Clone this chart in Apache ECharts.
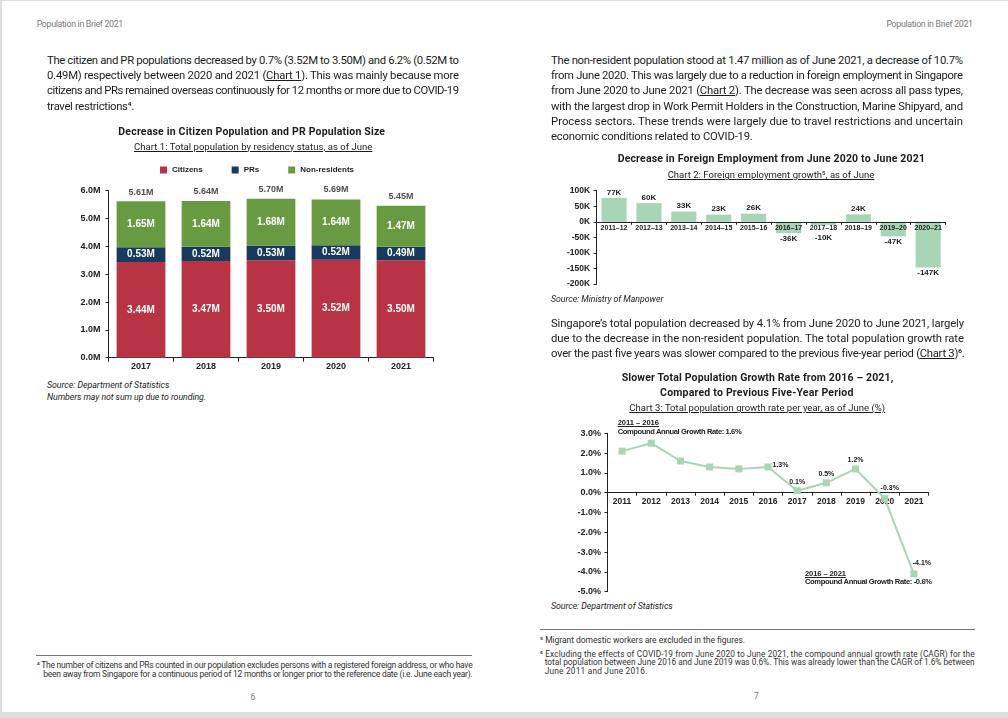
<!DOCTYPE html>
<html>
<head>
<meta charset="utf-8">
<script src="https://cdn.jsdelivr.net/npm/echarts/dist/echarts.min.js"></script>
<style>
  html, body { margin:0; padding:0; width:1008px; height:718px; overflow:hidden; background:#dedede; }
  #page { position:absolute; left:2px; top:1px; width:1006px; height:711px; background:#fff; }
  .t { position:absolute; white-space:nowrap; }
  .rule { position:absolute; height:1px; background:#777; }
  .chart { position:absolute; }
</style>
</head>
<body>
<div id="page"></div>
<div id="c1" class="chart" style="left:0px;top:150px;width:504px;height:230px;"></div>
<div id="c2" class="chart" style="left:504px;top:175px;width:504px;height:120px;"></div>
<div id="c3" class="chart" style="left:504px;top:415px;width:504px;height:185px;"></div>
<div class="rule" style="left:36px;top:655px;width:436px;"></div>
<div class="rule" style="left:540px;top:629px;width:435px;"></div>
<script>
// ---------- DATA ----------
const years1 = ['2017', '2018', '2019', '2020', '2021'];
const citizens = [3.44, 3.47, 3.50, 3.52, 3.50];
const prs = [0.53, 0.52, 0.53, 0.52, 0.49];
const nonResidents = [1.65, 1.64, 1.68, 1.64, 1.47];
const totals = [5.61, 5.64, 5.70, 5.69, 5.45];

const periods2 = ['2011–12', '2012–13', '2013–14', '2014–15', '2015–16', '2016–17', '2017–18', '2018–19', '2019–20', '2020–21'];
const empGrowth = [77, 60, 33, 23, 26, -36, -10, 24, -47, -147];
const empAxis = { min: -200, max: 100, interval: 50 };

const years3 = ['2011', '2012', '2013', '2014', '2015', '2016', '2017', '2018', '2019', '2020', '2021'];
const popGrowth = [2.1, 2.5, 1.6, 1.3, 1.2, 1.3, 0.1, 0.5, 1.2, -0.3, -4.1];
const popAxis = { min: -5, max: 3, interval: 1 };

// ---------- TEXT HELPERS ----------
function place(html, x, yc, o) {
  const d = document.createElement('div');
  d.className = 't';
  d.innerHTML = html;
  d.style.fontSize = o.size + 'px';
  d.style.fontWeight = o.weight || 400;
  d.style.fontStyle = o.italic ? 'italic' : 'normal';
  d.style.color = o.color || '#1c1c1c';
  d.style.fontFamily = o.font || 'Roboto, sans-serif';
  if (o.u) { d.style.textDecoration = 'underline'; d.style.textUnderlineOffset = '1px'; }
  const lh = o.lh || Math.round(o.size * 1.3);
  d.style.lineHeight = lh + 'px';
  d.style.top = (yc - lh / 2) + 'px';
  document.body.appendChild(d);
  let w = d.getBoundingClientRect().width;
  if (o.w) {
    const n = d.textContent.length;
    const ls = (o.w - w) / Math.max(1, n - 1);
    d.style.letterSpacing = ls + 'px';
    w = o.w;
  } else if (o.ls !== undefined) {
    d.style.letterSpacing = o.ls + 'px';
    w = d.getBoundingClientRect().width;
  }
  let left = x;
  if (o.align === 'center') left = x - w / 2;
  if (o.align === 'right') left = x - w;
  d.style.left = left + 'px';
  return d;
}
function para(lines, x, y0, dy, w, size, lastFull, extra) {
  let sum = 0, cnt = 0; const els = [];
  lines.forEach((ln, i) => {
    const full = i < lines.length - 1 || lastFull;
    const o = Object.assign({ size: size, w: full ? w : null }, extra || {});
    const d = place(ln, x, y0 + i * dy, o);
    if (full) { sum += parseFloat(d.style.letterSpacing); cnt++; }
    els.push(d);
  });
  if (!lastFull && cnt) els[els.length - 1].style.letterSpacing = (sum / cnt) + 'px';
}

const ARIAL = 'Liberation Sans, Arial, sans-serif';

function drawText() {
  // headers
  place('Population in Brief 2021', 36.7, 24.3, { size: 8.8, color: '#7a7a7a', w: 86.6 });
  place('Population in Brief 2021', 973, 24.3, { size: 8.8, color: '#7a7a7a', w: 86.6, align: 'right' });

  // left paragraph
  para([
    'The citizen and PR populations decreased by 0.7% (3.52M to 3.50M) and 6.2% (0.52M to',
    '0.49M) respectively between 2020 and 2021 (<u>Chart 1</u>). This was mainly because more',
    'citizens and PRs remained overseas continuously for 12 months or more due to COVID-19',
    'travel restrictions⁴.'
  ], 47, 60, 15.35, 412, 11.3, false);

  // chart 1 titles
  place('Decrease in Citizen Population and PR Population Size', 251.7, 131.7, { size: 10.5, weight: 700, w: 266.7, align: 'center' });
  place('Chart 1: Total population by residency status, as of June', 253.2, 146.7, { size: 9.5, u: true, w: 238.3, align: 'center' });
  place('Source: Department of Statistics', 47, 385, { size: 8.8, italic: true, w: 122.3 });
  place('Numbers may not sum up due to rounding.', 47, 397.3, { size: 8.8, italic: true, w: 159 });

  // left footnote
  place('⁴ The number of citizens and PRs counted in our population excludes persons with a registered foreign address, or who have', 36.7, 665, { size: 8.5, color: '#333', w: 436 });
  place('been away from Singapore for a continuous period of 12 months or longer prior to the reference date (i.e. June each year).', 43.3, 674.3, { size: 8.5, color: '#333', w: 429.4 });
  place('6', 253, 697, { size: 8.5, color: '#777', align: 'center' });

  // right paragraph 1
  para([
    'The non-resident population stood at 1.47 million as of June 2021, a decrease of 10.7%',
    'from June 2020. This was largely due to a reduction in foreign employment in Singapore',
    'from June 2020 to June 2021 (<u>Chart 2</u>). The decrease was seen across all pass types,',
    'with the largest drop in Work Permit Holders in the Construction, Marine Shipyard, and',
    'Process sectors. These trends were largely due to travel restrictions and uncertain',
    'economic conditions related to COVID-19.'
  ], 551, 60, 15.35, 412, 11.3, false);

  place('Decrease in Foreign Employment from June 2020 to June 2021', 771.3, 159.3, { size: 10.5, weight: 700, w: 307.3, align: 'center' });
  place('Chart 2: Foreign employment growth⁵, as of June', 771, 175, { size: 9.5, u: true, w: 206.7, align: 'center' });
  place('Source: Ministry of Manpower', 551, 299, { size: 8.8, italic: true, w: 112.3 });

  // right paragraph 2
  para([
    'Singapore\u2019s total population decreased by 4.1% from June 2020 to June 2021, largely',
    'due to the decrease in the non-resident population. The total population growth rate',
    'over the past five years was slower compared to the previous five-year period (<u>Chart 3</u>)⁶.'
  ], 551, 323.3, 15, 413, 11.3, true);

  place('Slower Total Population Growth Rate from 2016 \u2013 2021,', 757.5, 377.7, { size: 10.5, weight: 700, w: 271.7, align: 'center' });
  place('Compared to Previous Five-Year Period', 756.7, 393.3, { size: 10.5, weight: 700, w: 193.3, align: 'center' });
  place('Chart 3: Total population growth rate per year, as of June (%)', 757.2, 408.3, { size: 9.5, u: true, w: 255.7, align: 'center' });

  // chart 3 annotations
  place('2011 \u2013 2016', 617.7, 423.3, { size: 7.6, weight: 700, u: true, w: 41.3, font: ARIAL, color: '#222' });
  place('Compound Annual Growth Rate: 1.6%', 617.7, 432.3, { size: 7.6, weight: 700, w: 124, font: ARIAL, color: '#222' });
  place('2016 \u2013 2021', 805, 574.3, { size: 7.6, weight: 700, u: true, w: 41, font: ARIAL, color: '#222' });
  place('Compound Annual Growth Rate: -0.6%', 805, 582.3, { size: 7.6, weight: 700, w: 127, font: ARIAL, color: '#222' });

  place('Source: Department of Statistics', 551, 606.7, { size: 8.8, italic: true, w: 121.7 });

  // right footnotes
  place('⁵ Migrant domestic workers are excluded in the figures.', 540, 640, { size: 8.5, color: '#333', w: 204.7 });
  place('⁶ Excluding the effects of COVID-19 from June 2020 to June 2021, the compound annual growth rate (CAGR) for the', 540, 654.3, { size: 8.3, color: '#333', w: 434.7 });
  place('total population between June 2016 and June 2019 was 0.6%. This was already lower than the CAGR of 1.6% between', 544.7, 662.9, { size: 8.3, color: '#333', w: 430 });
  place('June 2011 and June 2016.', 544.7, 671.5, { size: 8.3, color: '#333', w: 102.6 });
  place('7', 756.3, 696, { size: 8.5, color: '#777', align: 'center' });
}

// ---------- CHARTS ----------
const AX = ARIAL;
const AXC = '#222';
const GREEN_L = '#A8D5B6';

function drawCharts() {
  // Chart 1
  const c1 = echarts.init(document.getElementById('c1'), null, { renderer: 'canvas' });
  const inLabel = { show: true, position: 'inside', color: '#fff', fontFamily: AX, fontWeight: 'bold', fontSize: 10,
    formatter: p => p.value.toFixed(2) + 'M' };
  c1.setOption({
    animation: false,
    textStyle: { fontFamily: AX },
    legend: {
      data: ['Citizens', 'PRs', 'Non-residents'], left: 155, top: 11, icon: 'rect',
      itemWidth: 7, itemHeight: 7, itemGap: 29,
      textStyle: { fontFamily: AX, fontWeight: 'bold', fontSize: 8, color: AXC }
    },
    grid: { left: 108.5, top: 40.7, width: 325, height: 167 },
    xAxis: {
      type: 'category', data: years1,
      axisLine: { lineStyle: { color: AXC, width: 1 } },
      axisTick: { show: true, length: 4, lineStyle: { color: AXC } },
      axisLabel: { color: AXC, fontFamily: AX, fontWeight: 'bold', fontSize: 9, margin: 4 }
    },
    yAxis: {
      type: 'value', min: 0, max: 6, interval: 1,
      axisLine: { show: true, lineStyle: { color: AXC, width: 1 } },
      axisTick: { show: true, length: 3, lineStyle: { color: AXC } },
      splitLine: { show: false },
      axisLabel: { color: AXC, fontFamily: AX, fontWeight: 'bold', fontSize: 9, margin: 8,
        formatter: v => v.toFixed(1) + 'M' }
    },
    series: [
      { name: 'Citizens', type: 'bar', stack: 'pop', data: citizens, barCategoryGap: '25%',
        itemStyle: { color: '#B83444' }, label: inLabel },
      { name: 'PRs', type: 'bar', stack: 'pop', data: prs,
        itemStyle: { color: '#173A5E' }, label: inLabel },
      { name: 'Non-residents', type: 'bar', stack: 'pop', data: nonResidents,
        itemStyle: { color: '#689A42' }, label: inLabel },
      { name: 'Total', type: 'scatter', data: totals, symbolSize: 0, silent: true,
        label: { show: true, position: 'top', distance: 5, color: AXC, fontFamily: AX, fontWeight: 'bold', fontSize: 9,
          formatter: p => p.value.toFixed(2) + 'M' } }
    ]
  });

  // Chart 2
  const g2 = { left: 92.6, top: 15.7, width: 349, height: 93.3 };
  const off2 = -g2.height * (0 - empAxis.min) / (empAxis.max - empAxis.min);
  const c2 = echarts.init(document.getElementById('c2'), null, { renderer: 'canvas' });
  // labels of short negative bars are pushed below the category labels
  const smallNegPush = 7;
  c2.setOption({
    animation: false,
    grid: g2,
    xAxis: {
      type: 'category', data: periods2, z: 5, offset: off2,
      axisLine: { onZero: false, lineStyle: { color: AXC, width: 1 } },
      axisTick: { show: true, length: 3, lineStyle: { color: AXC } },
      axisLabel: { color: AXC, fontFamily: AX, fontWeight: 'bold', fontSize: 7, margin: 3, interval: 0 }
    },
    yAxis: {
      type: 'value', min: empAxis.min, max: empAxis.max, interval: empAxis.interval,
      axisLine: { show: true, lineStyle: { color: AXC, width: 1 } },
      axisTick: { show: true, length: 3, lineStyle: { color: AXC } },
      splitLine: { show: false },
      axisLabel: { color: AXC, fontFamily: AX, fontWeight: 'bold', fontSize: 8.5, margin: 6.5,
        formatter: v => v + 'K' }
    },
    series: [{
      type: 'bar', barCategoryGap: '28%',
      itemStyle: { color: GREEN_L },
      data: empGrowth.map(v => ({
        value: v,
        label: v < 0
          ? { position: 'bottom', offset: [0, v > -20 ? smallNegPush : 0] }
          : { position: 'top' }
      })),
      label: { show: true, distance: 1.5, color: AXC, fontFamily: AX, fontWeight: 'bold', fontSize: 8,
        formatter: p => p.value + 'K' }
    }]
  });

  // Chart 3
  const g3 = { left: 103.5, top: 18.3, width: 321, height: 158.4 };
  const off3 = -g3.height * (0 - popAxis.min) / (popAxis.max - popAxis.min);
  const c3 = echarts.init(document.getElementById('c3'), null, { renderer: 'canvas' });
  const labelTweaks = {
    5: { position: 'right', distance: 1, offset: [0, -2] },
    9: { offset: [5, -2] },
    10: { offset: [8, -2] }
  };
  c3.setOption({
    animation: false,
    grid: g3,
    xAxis: {
      type: 'category', data: years3, boundaryGap: true, offset: off3,
      axisLine: { onZero: false, lineStyle: { color: AXC, width: 1 } },
      axisTick: { show: true, length: 3, lineStyle: { color: AXC } },
      axisLabel: { color: AXC, fontFamily: AX, fontWeight: 'bold', fontSize: 8.5, margin: 4.5, interval: 0 }
    },
    yAxis: {
      type: 'value', min: popAxis.min, max: popAxis.max, interval: popAxis.interval,
      axisLine: { show: true, lineStyle: { color: AXC, width: 1 } },
      axisTick: { show: true, length: 3, lineStyle: { color: AXC } },
      splitLine: { show: false },
      axisLabel: { color: AXC, fontFamily: AX, fontWeight: 'bold', fontSize: 9, margin: 6.5,
        formatter: v => v.toFixed(1) + '%' }
    },
    series: [{
      type: 'line', symbol: 'rect', symbolSize: 7, z: 3,
      lineStyle: { color: GREEN_L, width: 2 },
      itemStyle: { color: GREEN_L },
      data: popGrowth.map((v, i) => ({
        value: v,
        label: i >= 5 ? Object.assign({ show: true }, labelTweaks[i] || {}) : { show: false }
      })),
      label: { position: 'top', distance: 2, color: AXC, fontFamily: AX, fontWeight: 'bold', fontSize: 7,
        formatter: p => p.value.toFixed(1) + '%' }
    }]
  });
}

function go() { drawText(); drawCharts(); }
if (document.fonts && document.fonts.ready) { document.fonts.ready.then(go); } else { window.onload = go; }
</script>
</body>
</html>
